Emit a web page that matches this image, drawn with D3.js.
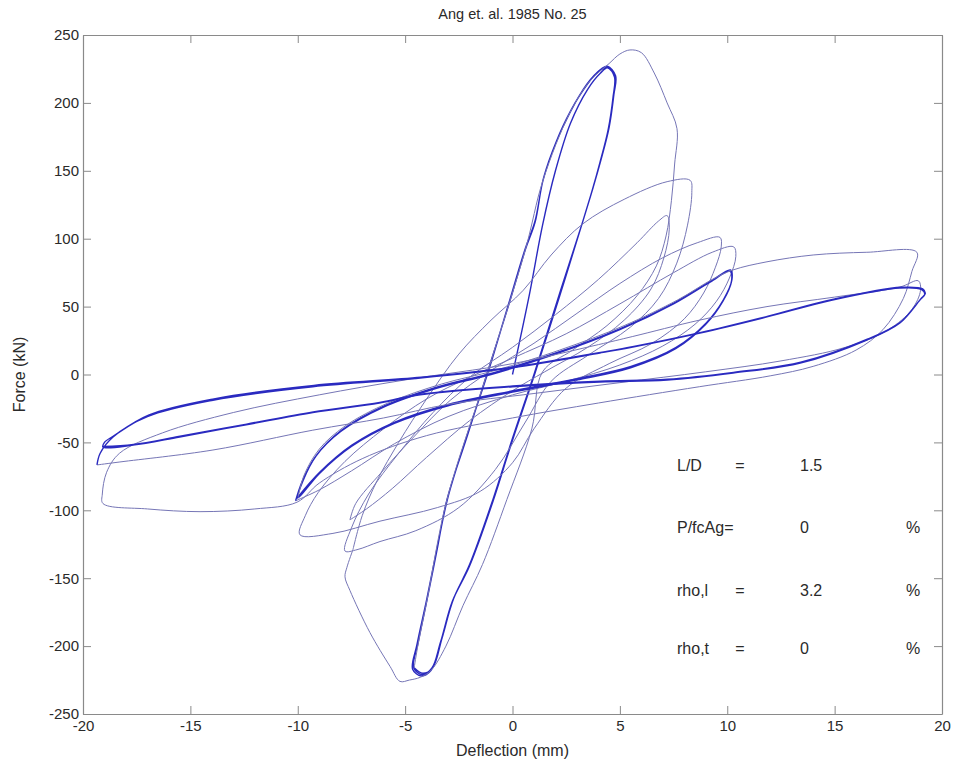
<!DOCTYPE html>
<html>
<head>
<meta charset="utf-8">
<script src="https://cdn.jsdelivr.net/npm/d3@7"></script>
<style>
  html, body { margin: 0; padding: 0; background: #fff; }
  svg { display: block; }
  text { font-family: "Liberation Sans", Arial, Helvetica, sans-serif; fill: #2a2a2a; }
</style>
</head>
<body>
<svg id="chart" width="954" height="766"></svg>
<script>
// ---- Axis ticks ----
const xTicks = [-20, -15, -10, -5, 0, 5, 10, 15, 20];
const yTicks = [-250, -200, -150, -100, -50, 0, 50, 100, 150, 200, 250];

// ---- Specimen properties ----
const propNames  = ["L/D", "P/fcAg=", "rho,l", "rho,t"];
const propEquals = ["=", "", "=", "="];
const propValues = ["1.5", "0", "3.2", "0"];
const propUnits  = ["", "%", "%", "%"];

// ---- Force-deflection history [deflection mm, force kN], in loading order ----
// Early near-elastic cycles to about +/-4.5 mm
const elasticCycles = [
  [0,0],[0.8,60],[1.4,110],[2.0,150],[2.7,185],[3.5,210],[4.1,222],[4.45,226],[4.75,219],
  [4.68,204],[4.45,180],[4.07,156],[3.7,135],[3.24,111],[2.2,60],[1.0,0],[0.0,-47],[-0.91,-92],
  [-2.0,-140],[-2.77,-166],[-3.3,-195],[-3.75,-216],[-4.2,-221],[-4.6,-216],
  [-4.4,-198],[-3.98,-166],[-3.5,-128],[-3.05,-92],[-2.1,-45],[-1.2,0],[-0.2,50],[0.6,92],
  [1.05,112],[1.42,143],[2.0,170],[2.68,193],[3.47,214],[4.07,224],[4.4,226],[4.78,219],
  [4.7,205],[4.47,181],[4.1,157],[3.72,136],[3.22,110],[2.2,58],[1.0,-1],[0.0,-48],[-0.9,-93],
  [-2.0,-141],[-2.8,-167],[-3.35,-197],[-3.8,-218],[-4.25,-222],[-4.65,-217],
  [-4.45,-199],[-4.0,-166],[-3.5,-127],[-3.0,-90],[-2.1,-44],[-1.15,1],[-0.2,51],[0.6,93],
  [1.05,113],[1.45,145],[2.05,172],[2.7,194],[3.45,213],[4.05,224],[4.42,227],[4.8,220],
  [4.72,206],[4.5,182],[4.12,158],[3.74,137],[3.26,112],[2.25,61],[1.05,1],[0.05,-46],
  [-0.88,-91],[-1.95,-139],[-2.74,-165],[-3.28,-194],[-3.72,-216],[-4.18,-220],[-4.58,-216]
];

// Peak-strength cycle, then softening out to about +/-7.7 mm
const peakCycle = [
  [-4.4,-199],[-3.98,-166],[-3.05,-92],[-1.2,0],[0.6,92],[1.42,143],[2.68,193],[3.6,216],
  [4.5,229],[5.0,236],[5.47,239],[6.0,237],[6.6,222],[7.2,200],[7.66,181],[7.55,155],[7.4,128],
  [7.15,102],[6.7,80],[5.8,58],[4.4,36],[2.8,18],[1.4,2],[0.9,-40],[-0.26,-92],[-1.4,-140],
  [-2.3,-170],[-3.1,-200],[-3.8,-218],[-4.3,-223],[-4.8,-225],[-5.24,-226],[-5.7,-215],
  [-6.64,-190],[-7.57,-159],[-7.8,-149],[-7.71,-142],[-7.43,-129]
];

// Cycles at about +/-8 mm
const cyclesAt8 = [
  [-7.0,-104],[-6.3,-78],[-5.3,-50],[-4.0,-18],[-2.5,15],[-1.0,40],[0.5,62],[1.8,88],[3.28,111],
  [5.2,129],[7.2,142],[8.27,143],
  [8.35,134],[8.15,110],[7.65,82],[6.8,56],[5.5,35],[3.5,14],[1.8,-5],[0.6,-35],[-0.8,-70],
  [-2.5,-98],[-4.5,-115],[-6.17,-123],[-7.24,-129],[-7.8,-130],
  [-7.5,-113],[-6.7,-88],[-5.3,-58],[-3.7,-28],[-2.0,-2],[0,20],[2,44],[4,70],[5.8,97],[6.8,113],
  [7.2,117],
  [7.3,107],[7.05,86],[6.45,63],[5.2,40],[3.5,20],[1.5,2],[0,-12],[-2,-34],[-4,-61],[-5.6,-84],
  [-6.8,-99],[-7.57,-107]
];

// Cycles at about +/-10 mm
const cyclesAt10 = [
  [-7.3,-95],[-6.1,-72],[-4.6,-46],[-2.9,-19],[-1.0,3],[1.0,23],[3.0,45],[5.0,67],[7.0,86],
  [8.6,97],[9.66,101],
  [9.72,94],[9.45,79],[8.9,60],[8.0,41],[6.5,23],[4.5,8],[2.5,-10],[1.0,-40],[0,-65],[-1.5,-86],
  [-3.5,-98],[-6.17,-108],[-8.36,-117],[-9.9,-118],
  [-9.65,-104],[-9.05,-87],[-7.8,-64],[-6.0,-40],[-4.0,-18],[-2.0,-2],[0,12],[2.5,30],[5.0,52],
  [7.5,75],[9.3,90],[10.3,94],
  [10.4,87],[10.1,71],[9.5,54],[8.5,37],[7.0,21],[5.0,7],[2.5,-5],[0,-15],[-3.0,-31],[-5.5,-51],
  [-7.5,-71],[-9.0,-85],[-10.1,-93]
];

// Stabilised cycles at about +/-10 mm
const stableAt10 = [
  [-9.8,-79],[-9.2,-61],[-8.0,-42],[-6.0,-24],[-3.5,-10],[-1.0,0],[2.0,15],[5.0,33],[7.5,52],
  [9.2,68],[10.13,76],
  [10.2,69],[9.8,54],[9.0,37],[7.6,19],[5.5,5],[3.0,-4],[0,-13],[-3.0,-23],[-5.5,-36],[-7.5,-53],
  [-9.0,-73],[-10.0,-91],
  [-9.75,-78],[-9.15,-60],[-7.95,-41],[-5.95,-23],[-3.45,-9],[-0.95,1],[2.05,16],[5.05,34],
  [7.55,53],[9.25,69],[10.15,77],
  [10.22,70],[9.82,55],[9.02,38],[7.62,20],[5.52,6],[3.02,-3],[0.02,-12],[-2.98,-22],[-5.48,-35],
  [-7.48,-52],[-8.98,-72],[-9.98,-90]
];

// First excursions to about +/-19 mm
const cyclesAt19 = [
  [-9.7,-74],[-9.0,-55],[-7.8,-38],[-5.8,-21],[-3.3,-7],[-0.8,3],[2.2,18],[5.2,36],[7.7,55],
  [9.3,70],[10.27,77],[11.85,83],[14.0,88],[16.5,90],[18.83,90],
  [18.6,76],[18.2,56],[17.25,33],[16.0,18],[14.0,6],[12.0,-1],[8.7,-9],[4.0,-21],[0,-32],
  [-4,-45],[-7,-62],[-9,-80],[-10.03,-94],[-12.0,-99],[-14.55,-101],[-17.0,-99],[-19.07,-95],
  [-19.1,-88],[-18.9,-72],[-18.3,-58],[-16.3,-43],[-13.0,-28],[-9.0,-15],[-5.0,-4],[0,8],
  [4.0,22],[5.6,28],[8.7,40],[11.85,50],[15.0,57],[18.04,64.4],[18.9,69],
  [19.0,62],[18.6,48],[17.5,33],[15.5,20],[12.5,10],[9.0,2],[5.0,-6],[1.0,-14],[-3.0,-22],
  [-6.0,-32],[-9.3,-41],[-13.95,-55.6],[-18.28,-64.4],[-19.35,-66.6]
];

// Stabilised cycles at about +/-19 mm
const stableAt19 = [
  [-19.2,-58],[-18.6,-46],[-17.0,-31],[-13.95,-19],[-9.3,-9],[-4.3,-2.6],[0,5],[4.07,15.8],
  [5.6,20.2],[8.73,30.5],[11.85,42.4],[14.9,54.9],[18.04,63.7],[19.05,62.5],
  [19.2,59],[18.98,55],[18.04,38],[16.5,25.4],[13.4,8.4],[10.27,1.1],[7.2,-4],[4.07,-5.5],[0,-9],
  [-4.3,-15],[-6.2,-21],[-9.3,-28],[-12.4,-37],[-15.5,-46],[-17.67,-52],[-19.07,-53.5],
  [-19.0,-50],[-18.55,-45],[-16.95,-30],[-13.9,-18],[-9.25,-8],[-4.25,-2],[0.05,5.5],[4.1,16.3],
  [5.65,20.7],[8.78,31],[11.9,43],[14.95,55.4],[18.09,64.2],[19.1,63],
  [19.22,59.5],[19.0,55.5],[18.06,38.5],[16.52,26],[13.42,9],[10.29,1.6],[7.22,-3.5],[4.09,-5],
  [0.02,-8.5],[-4.28,-14.5],[-6.18,-20.5],[-9.28,-27.5],[-12.38,-36.5],[-15.48,-45.5],
  [-17.65,-51.5],[-19.05,-53]
];

// ---- Layout ----
const svg = d3.select("#chart");
const plotLeft = 83, plotRight = 942, plotTop = 35, plotBottom = 714;

const x = d3.scaleLinear().domain([-20, 20]).range([plotLeft, plotRight]);
const y = d3.scaleLinear().domain([-250, 250]).range([plotBottom, plotTop]);

// Title
svg.append("text")
  .attr("x", (plotLeft + plotRight) / 2).attr("y", 19)
  .attr("text-anchor", "middle")
  .style("font-size", "14.5px")
  .text("Ang et. al. 1985 No. 25");

// Curves (clipped to the axes box)
svg.append("clipPath").attr("id", "plot-clip")
  .append("rect").attr("x", plotLeft).attr("y", plotTop)
  .attr("width", plotRight - plotLeft).attr("height", plotBottom - plotTop);

const line = d3.line()
  .x(d => x(d[0]))
  .y(d => y(d[1]))
  .curve(d3.curveCatmullRom.alpha(0.5));

const segments = [
  { pts: elasticCycles, heavy: true },
  { pts: peakCycle, heavy: false },
  { pts: cyclesAt8, heavy: false },
  { pts: cyclesAt10, heavy: false },
  { pts: stableAt10, heavy: true },
  { pts: cyclesAt19, heavy: false },
  { pts: stableAt19, heavy: true }
];

const curves = svg.append("g").attr("clip-path", "url(#plot-clip)");
let prev = null;
segments.forEach(seg => {
  const pts = prev ? [prev].concat(seg.pts) : seg.pts;
  curves.append("path")
    .attr("d", line(pts))
    .attr("fill", "none")
    .attr("stroke", seg.heavy ? "#2a2ac0" : "#7676b6")
    .attr("stroke-width", seg.heavy ? 1.4 : 1)
    .attr("stroke-linejoin", "round");
  prev = seg.pts[seg.pts.length - 1];
});

// Axes: box with inward ticks on all sides
const axisColor = "#8a8a8a";
const tickLen = 8;
const plain = d => String(d);

const gx = svg.append("g").attr("transform", `translate(0,${plotBottom})`)
  .call(d3.axisBottom(x).tickValues(xTicks).tickSizeInner(-tickLen).tickSizeOuter(0)
    .tickPadding(6).tickFormat(plain));
const gxTop = svg.append("g").attr("transform", `translate(0,${plotTop})`)
  .call(d3.axisTop(x).tickValues(xTicks).tickSizeInner(-tickLen).tickSizeOuter(0)
    .tickFormat(""));
const gy = svg.append("g").attr("transform", `translate(${plotLeft},0)`)
  .call(d3.axisLeft(y).tickValues(yTicks).tickSizeInner(-tickLen).tickSizeOuter(0)
    .tickPadding(4).tickFormat(plain));
const gyRight = svg.append("g").attr("transform", `translate(${plotRight},0)`)
  .call(d3.axisRight(y).tickValues(yTicks).tickSizeInner(-tickLen).tickSizeOuter(0)
    .tickFormat(""));

[gx, gxTop, gy, gyRight].forEach(g => {
  g.select(".domain").attr("stroke", axisColor).attr("stroke-width", 1.2);
  g.selectAll(".tick line").attr("stroke", axisColor);
  g.selectAll(".tick text").style("font-size", "15px").attr("fill", "#2a2a2a")
    .style("font-family", "'Liberation Sans', Arial, sans-serif");
});

// Axis titles
svg.append("text")
  .attr("x", x(0)).attr("y", 756)
  .attr("text-anchor", "middle")
  .style("font-size", "16px")
  .text("Deflection (mm)");
svg.append("text")
  .attr("transform", `translate(25,${y(0)}) rotate(-90)`)
  .attr("text-anchor", "middle")
  .style("font-size", "16px")
  .text("Force (kN)");

// Specimen properties
const propRows = [y(-71), y(-116.5), y(-163), y(-206)];
const props = svg.append("g").style("font-size", "16px");
propNames.forEach((name, i) => {
  const yy = propRows[i];
  props.append("text").attr("x", 677).attr("y", yy).text(name);
  if (propEquals[i]) props.append("text").attr("x", 740).attr("y", yy)
    .attr("text-anchor", "middle").text(propEquals[i]);
  props.append("text").attr("x", 800).attr("y", yy).text(propValues[i]);
  if (propUnits[i]) props.append("text").attr("x", 913).attr("y", yy)
    .attr("text-anchor", "middle").text(propUnits[i]);
});
</script>
</body>
</html>
